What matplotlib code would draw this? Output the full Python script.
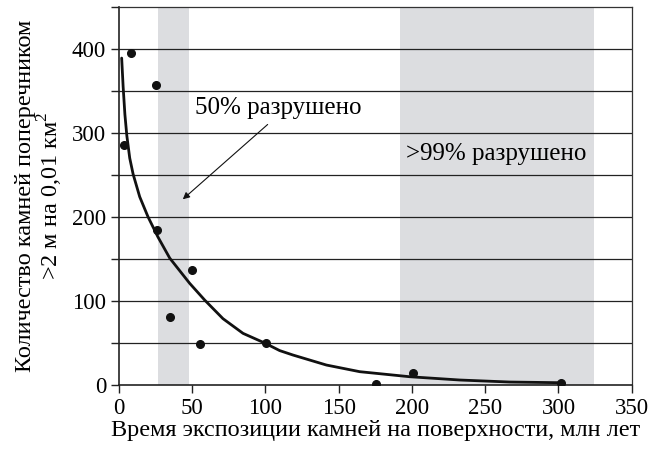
import matplotlib
matplotlib.use("Agg")
import matplotlib.pyplot as plt
from matplotlib.ticker import MultipleLocator

FAM = ['Liberation Serif', 'DejaVu Serif']
plt.rcParams['font.family'] = FAM
plt.rcParams['mathtext.fontset'] = 'custom'
plt.rcParams['mathtext.rm'] = 'Liberation Serif'

# observed points
pts_x = [3.4, 8.2, 25.7, 26.4, 34.8, 50.3, 55.3, 100.3, 175.8, 200.8, 301.7]
pts_y = [286, 395, 357, 185, 81, 137, 48.5, 50, 1, 14.6, 2.4]

# fitted curve
curve_x = [2.0, 3.0, 4.2, 5.5, 7.5, 9.8, 14.3, 20.0, 26.8, 34.8, 48.4, 58.7,
           71.1, 84.8, 99.6, 109.8, 118.9, 141.7, 164.4, 198.5, 232.6, 266.7,
           300.8]
curve_y = [389, 355, 322, 297, 270, 251, 224, 200, 176, 151, 121, 101,
           79, 61.5, 50, 41, 35.7, 23.8, 15.9, 9.9, 6, 3.6, 2.8]

# shaded bands
bands = [(26.6, 47.7), (191.7, 324.5)]

xticks = [0, 50, 100, 150, 200, 250, 300, 350]
yticks = [0, 100, 200, 300, 400]

fig = plt.figure(figsize=(6.56, 4.53), dpi=100)
ax = fig.add_axes([0.181, 0.150, 0.782, 0.835])

for a, b in bands:
    ax.axvspan(a, b, color='#dcdde0', lw=0, zorder=0)

for g in range(50, 450, 50):
    ax.axhline(g, color='#222222', lw=0.9, zorder=1)

ax.plot(curve_x, curve_y, color='#111111', lw=2.0, zorder=3,
        solid_capstyle='round', solid_joinstyle='round')
ax.plot(pts_x, pts_y, 'o', color='#111111', ms=5.5, zorder=4)

ax.set_xlim(0, 350)
ax.set_ylim(0, 450)
ax.set_xticks(xticks)
ax.set_yticks(yticks)
ax.set_xticklabels([str(v) for v in xticks], family=FAM, fontsize=16.5)
ax.set_yticklabels([str(v) for v in yticks], family=FAM, fontsize=16.5)
ax.yaxis.set_minor_locator(MultipleLocator(50))
ax.tick_params(axis='both', which='major', direction='out',
               length=6, width=1, color='#222222', pad=3)
ax.tick_params(axis='y', which='minor', direction='out', length=6, width=1,
               color='#222222')

for s in ['left', 'bottom']:
    ax.spines[s].set_linewidth(1.2)
    ax.spines[s].set_color('#222222')
for s in ['right', 'top']:
    ax.spines[s].set_linewidth(0.9)
    ax.spines[s].set_color('#333333')

ax.set_xlabel('Время экспозиции камней на поверхности, млн лет', fontsize=17.5,
              labelpad=1, family=FAM)
ax.set_ylabel('Количество камней поперечником\n>2 м на 0,01 км$^2$',
              fontsize=17.5, labelpad=5, linespacing=1.0, family=FAM)

ax.text(51.8, 330, '50% разрушено', fontsize=18, va='center', ha='left',
        zorder=5, family=FAM)
ax.text(196.3, 275, '>99% разрушено', fontsize=18, va='center', ha='left',
        zorder=5, family=FAM)
ax.annotate('', xy=(43.7, 221), xytext=(101.6, 310),
            arrowprops=dict(arrowstyle='-|>', color='#111111', lw=0.8,
                            mutation_scale=10, shrinkA=0, shrinkB=0),
            zorder=5)

fig.savefig('out.png', dpi=100)
